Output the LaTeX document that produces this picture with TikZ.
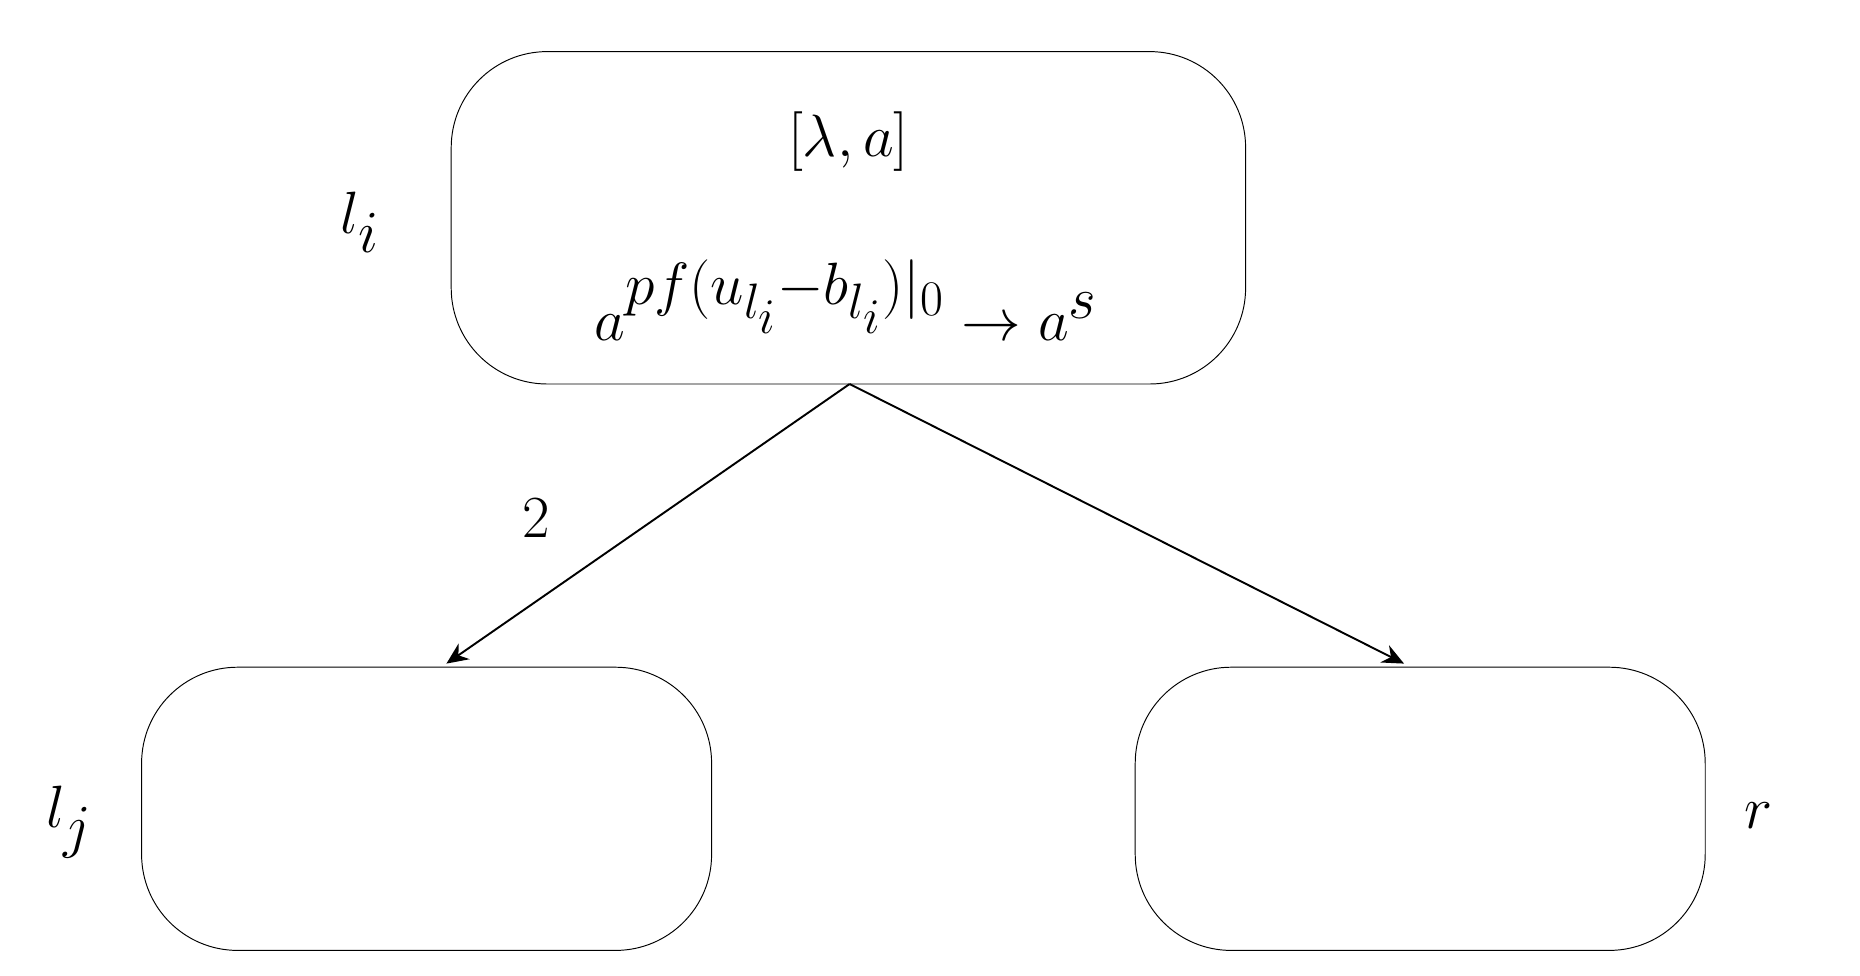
\documentclass[tikz,border=0pt]{standalone}
\usetikzlibrary{arrows.meta}
\usepackage{fontspec}
\setmainfont{Liberation Serif}
\begin{document}
\begin{tikzpicture}[x=0.5pt,y=-0.5pt,
  box/.style={draw,thin,rounded corners=40pt,inner sep=0pt},
  edge/.style={thick,-{Stealth[length=9pt,width=8pt]}},
  lbl/.style={font=\fontsize{48}{48}\selectfont},
  big/.style={font=\fontsize{50}{50}\selectfont},
  frm/.style={font=\fontsize{40}{40}\selectfont},
  num/.style={font=\fontsize{36}{36}\selectfont}]
\useasboundingbox (0,0) rectangle (1550,813);
\draw[box] (376,43) rectangle (1038,320);
\draw[box] (118,556) rectangle (593,792);
\draw[box] (946,556) rectangle (1421,792);
\coordinate (top) at (708,320);
\coordinate (L) at (372,553);
\coordinate (R) at (1170,553);
\draw[edge] (top) -- (L);
\draw[edge] (top) -- (R);
\node[num] (two) at (447,432) {$2$};
\node[big] (hd) at (707,118) {$[\lambda,a]$};
\node[frm] (rule) at (705,250) {$a^{pf(u_{l_i}-b_{l_i})|_0}\rightarrow a^{s}$};
\node[lbl] (li) at (300,185) {$l_i$};
\node[lbl] (lj) at (58,685) {$l_j$};
\node[lbl] (r) at (1465,680) {$r$};
\end{tikzpicture}
\end{document}
